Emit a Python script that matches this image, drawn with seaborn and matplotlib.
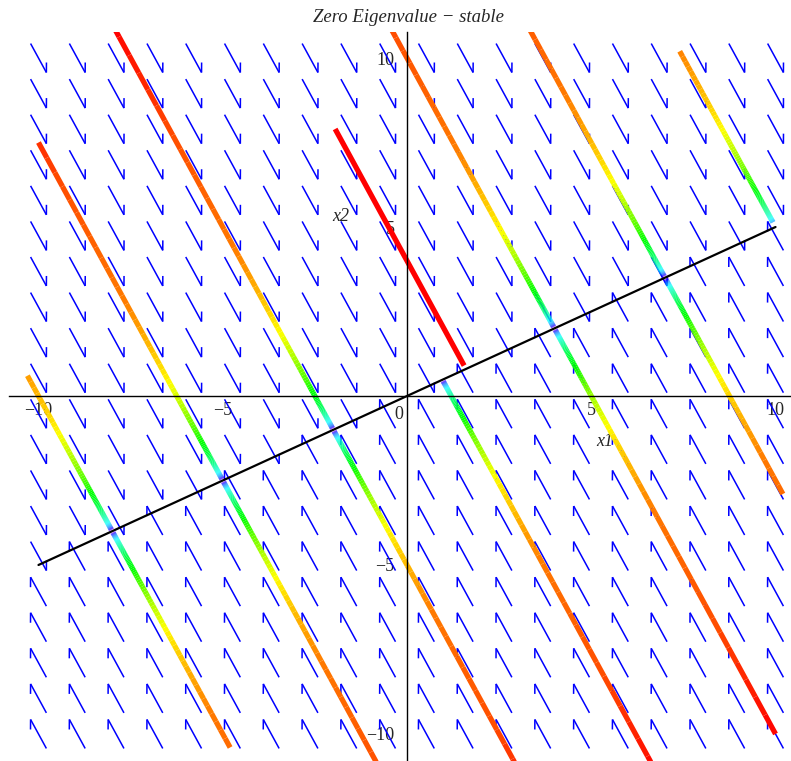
import numpy as np
import matplotlib
matplotlib.use("Agg")
import matplotlib.pyplot as plt
import seaborn as sns
import colorsys
from matplotlib.collections import LineCollection
from matplotlib.ticker import MultipleLocator

# linear system x' = A x with eigenvalues 0 (along (2,1)) and -1 (along (1,-2))
A = np.array([[-0.2, 0.4], [0.4, -0.8]])

# direction field grid
grid_lo, grid_hi, grid_n = -10, 10, 20

# line of equilibria x2 = x1/2
eq_line_x = [-10, 10]
eq_line_y = [-5, 5]

# trajectories: start point -> end point (mostly the equilibrium they approach)
traj_start_x = [-10.3, -4.8, -10.0, -0.6, -8.1, 3.1, -0.5, 10.0, 6.8, 3.15, 10.2, 7.4]
traj_start_y = [0.6, -10.4, 7.5, -11.3, 11.2, -11.2, 11.0, -10.0, -11.2, 11.2, -2.9, 10.2]
traj_end_x = [-8.0, -8.0, -5.0, -5.0, -2.0, -2.0, 4.0, 4.0, 0.96, 7.0, 7.0, 9.93]
traj_end_y = [-4.0, -4.0, -2.5, -2.5, -1.0, -1.0, 2.0, 2.0, 0.48, 3.5, 3.5, 5.14]

# single solid red trajectory
red_x = [-1.95, 1.55]
red_y = [7.9, 0.9]

# colour (hue) of a trajectory vs. its distance to the equilibrium line
hue_dist = [0.02, 0.12, 0.58, 1.5, 2.7, 4.4, 6.0]
hue_val = [0.75, 0.50, 0.33, 0.16, 0.08, 0.05, 0.0]

title = "Zero Eigenvalue \u2212 stable"
xtick_vals = [-10, -5, 5, 10]
ytick_vals = [-10, -5, 5, 10]

sns.set_style("white")
plt.rcParams["font.family"] = ["Liberation Serif", "DejaVu Serif"]

fig = plt.figure(figsize=(7.91, 7.61), dpi=100)
ax = fig.add_axes([9 / 791, 0, 782 / 791, 729 / 761])
xlim = (-10.8, 10.42)
ylim = (-10.8, 10.77)
ax.set_xlim(*xlim)
ax.set_ylim(*ylim)

# pixel scale (for arrow heads)
sx = 782 / (xlim[1] - xlim[0])
sy = 729 / (ylim[1] - ylim[0])

# direction field: fixed-length harpoon arrows
g = np.linspace(grid_lo, grid_hi, grid_n)
shaft_px, barb_px, barb_ang = 33, 10, np.deg2rad(29)
segs = []
for xv in g:
    for yv in g:
        v = A @ np.array([xv, yv])
        if np.hypot(*v) == 0:
            continue
        up = np.array([v[0] * sx, v[1] * sy])
        up = up / np.hypot(*up)
        tail = np.array([xv, yv]) - 0.5 * shaft_px * up / [sx, sy]
        tip = np.array([xv, yv]) + 0.5 * shaft_px * up / [sx, sy]
        r = -up
        c, s = np.cos(-barb_ang), np.sin(-barb_ang)
        b = np.array([r[0] * c - r[1] * s, r[0] * s + r[1] * c])
        barb = tip + barb_px * b / [sx, sy]
        segs.append([tail, tip])
        segs.append([tip, barb])
ax.add_collection(LineCollection(segs, colors="#0000ff", linewidths=1.1, zorder=2))

# equilibrium line
sns.lineplot(x=eq_line_x, y=eq_line_y, color="black", linewidth=1.6, ax=ax, zorder=3)


def hue_of(p):
    d = np.abs(p[:, 0] - 2 * p[:, 1]) / 5
    return np.interp(np.log(np.maximum(d, 1e-3)), np.log(hue_dist), hue_val)


for x0, y0, x1, y1 in zip(traj_start_x, traj_start_y, traj_end_x, traj_end_y):
    p0 = np.array([x0, y0])
    q = np.array([0.4, 0.2]) * (2 * x0 + y0)  # equilibrium on this trajectory
    d0 = abs(x0 - q[0])
    d1 = max(abs(x1 - q[0]), 0.02)
    rr = np.geomspace(1, d1 / d0, 120)
    pts = q + np.outer(rr, p0 - q)
    mids = 0.5 * (pts[1:] + pts[:-1])
    cols = [colorsys.hsv_to_rgb(h, 1, 1) for h in hue_of(mids)]
    lc = LineCollection(np.stack([pts[:-1], pts[1:]], axis=1), colors=cols,
                        linewidths=3.8, capstyle="butt", zorder=4)
    ax.add_collection(lc)

ax.plot(red_x, red_y, color="#ff0000", linewidth=3.8, solid_capstyle="butt", zorder=4)

# axes through the origin
for side in ["top", "right"]:
    ax.spines[side].set_visible(False)
ax.spines["left"].set_position(("data", 0))
ax.spines["bottom"].set_position(("data", 0))
for side in ["left", "bottom"]:
    ax.spines[side].set_color("black")
    ax.spines[side].set_linewidth(1.0)
    ax.spines[side].set_zorder(5)

ax.set_xticks(xtick_vals)
ax.set_xticklabels([str(v).replace("-", "\u2212") for v in xtick_vals])
ax.set_yticks(ytick_vals)
ax.set_yticklabels([str(v).replace("-", "\u2212") for v in ytick_vals])
ax.xaxis.set_minor_locator(MultipleLocator(1))
ax.yaxis.set_minor_locator(MultipleLocator(1))
ax.tick_params(which="both", direction="out", length=3, width=0.8, color="black")
ax.tick_params(axis="x", which="major", pad=1, labelsize=13)
ax.tick_params(axis="y", which="major", pad=6, labelsize=13)
ax.annotate("0", xy=(0, 0), xytext=(-8, -19), textcoords="offset pixels",
            ha="center", va="center", fontsize=13)

ax.text(5.37, -1.36, "x1", style="italic", fontsize=13, ha="center", va="center")
ax.text(-1.79, 5.30, "x2", style="italic", fontsize=13, ha="center", va="center")
fig.text(408.5 / 791, 1 - 18 / 761, title, style="italic", fontsize=13.5,
         ha="center", va="center")

fig.savefig("out.png", dpi=100)
